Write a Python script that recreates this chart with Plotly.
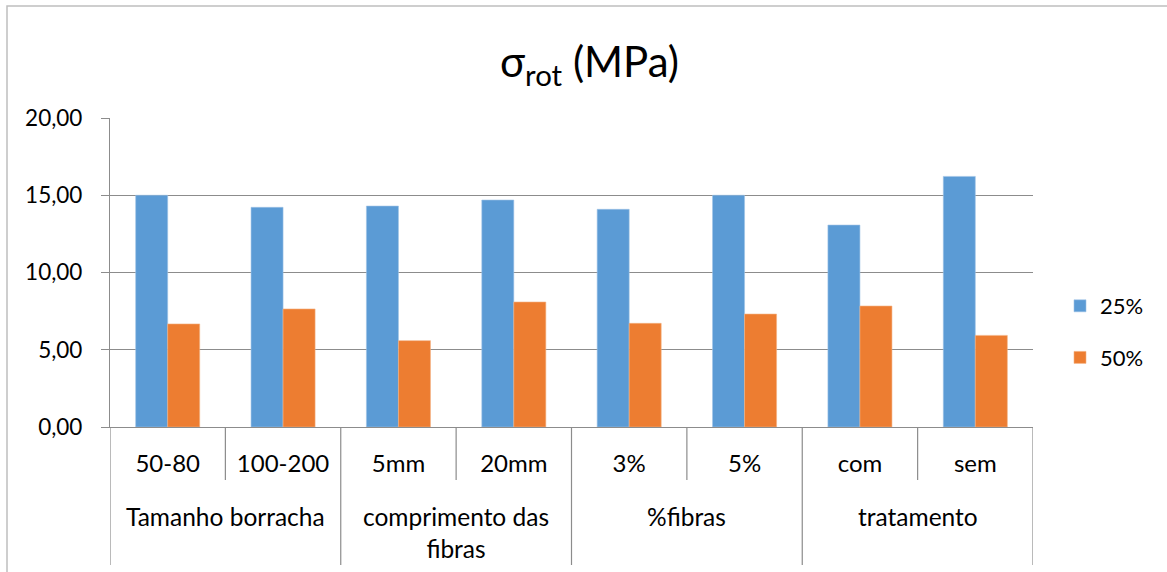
import plotly.graph_objects as go

groups = ["Tamanho borracha", "comprimento das<br>fibras", "%fibras", "tratamento"]
subcats = ["50-80", "100-200", "5mm", "20mm", "3%", "5%", "com", "sem"]
series_names = ["25%", "50%"]
vals_25 = [15.00, 14.22, 14.30, 14.69, 14.09, 15.00, 13.07, 16.22]
vals_50 = [6.67, 7.64, 5.59, 8.09, 6.71, 7.31, 7.83, 5.93]
y_ticks = [0, 5, 10, 15, 20]

FONT = "Lato"
GRID = "#8C8C8C"
AX = "#8C8C8C"

fig = go.Figure()
fig.add_trace(go.Bar(x=subcats, y=vals_25, name=series_names[0], marker_color="#5B9BD5",
                     marker_line_color="#9DC3E6", marker_line_width=0.6, legendgroup="a"))
fig.add_trace(go.Bar(x=subcats, y=vals_50, name=series_names[1], marker_color="#ED7D31",
                     marker_line_color="#F4B183", marker_line_width=0.6, legendgroup="b"))

H = 309.0
shapes = []
# divider lines below the x axis
for i in range(len(subcats) + 1):
    xb = i - 0.5
    depth = 138 if i % 2 == 0 else 53
    shapes.append(dict(type="line", xref="x", yref="paper", x0=xb, x1=xb, y0=0, y1=-depth / H,
                       line=dict(color=AX, width=1.2), layer="above"))
# outer chart border
shapes.append(dict(type="rect", xref="paper", yref="paper",
                   x0=(7 - 110) / 923, x1=2.0, y0=-1.0, y1=(427 - 6) / H,
                   line=dict(color="#BFBFBF", width=1.5), fillcolor="rgba(0,0,0,0)"))

annotations = []
for gi, g in enumerate(groups):
    annotations.append(dict(text=g, xref="x", yref="paper", x=gi * 2 + 0.5, y=(427 - 500) / H,
                            xanchor="center", yanchor="top", showarrow=False,
                            font=dict(family=FONT, size=24.5, color="#000000")))

fig.update_layout(
    width=1167, height=572,
    margin=dict(l=110, r=134, t=118, b=145),
    paper_bgcolor="white", plot_bgcolor="white",
    separators=",.",
    barmode="group", bargap=0.445, bargroupgap=0.0,
    title=dict(text="σ<sub>rot</sub> (MPa)", x=(497 + 682) / 2 / 1167, xanchor="center",
               y=1 - 62 / 572, yanchor="middle",
               font=dict(family=FONT, size=42, color="#000000")),
    legend=dict(x=(1060 - 110) / 923, xanchor="left", y=(427 - 332) / H, yanchor="middle",
                font=dict(family=FONT, size=22, color="#000000"), tracegroupgap=20,
                bgcolor="rgba(0,0,0,0)"),
    xaxis=dict(type="category", range=[-0.5, 7.5], showline=True, linecolor=AX, linewidth=1.2,
               ticks="", showgrid=False, ticklabelstandoff=15,
               tickfont=dict(family=FONT, size=24, color="#000000")),
    yaxis=dict(range=[0, 20], tickvals=y_ticks, tickformat=".2f", showline=True, linecolor=AX,
               linewidth=1.2, ticks="outside", ticklen=8, tickcolor=AX, gridcolor=GRID,
               gridwidth=1.2, zeroline=False, ticklabelstandoff=14,
               tickfont=dict(family=FONT, size=22.5, color="#000000")),
    shapes=shapes, annotations=annotations,
)

fig.write_html("out.html", config={"displayModeBar": False},
               post_script="document.body.style.margin='0px';")
